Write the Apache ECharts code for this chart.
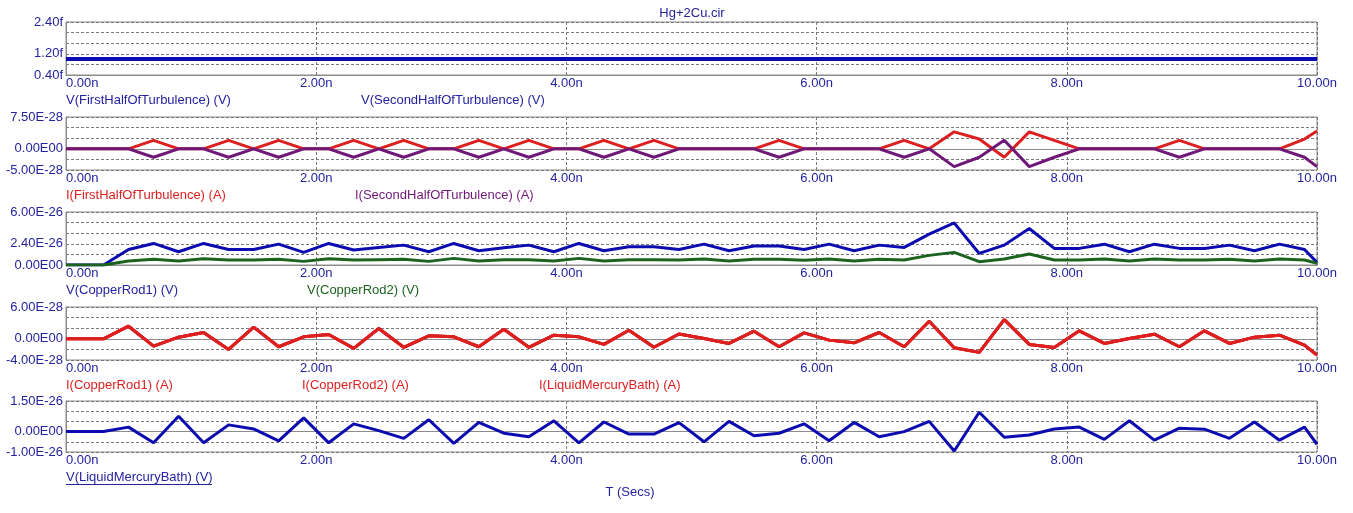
<!DOCTYPE html>
<html>
<head>
<meta charset="utf-8">
<script src="https://cdn.jsdelivr.net/npm/echarts@6/dist/echarts.min.js"></script>
<style>
html,body{margin:0;padding:0;background:#fff;}
#c{width:1353px;height:513px;}
</style>
</head>
<body>
<div id="c"></div>
<script>
// time (ns)
const timeNs = [0, 0.1, 0.3, 0.5, 0.7, 0.9, 1.1, 1.3, 1.5, 1.7, 1.9, 2.1, 2.3, 2.5, 2.7, 2.9, 3.1, 3.3, 3.5, 3.7, 3.9, 4.1, 4.3, 4.5, 4.7, 4.9, 5.1, 5.3, 5.5, 5.7, 5.9, 6.1, 6.3, 6.5, 6.7, 6.9, 7.1, 7.3, 7.5, 7.7, 7.9, 8.1, 8.3, 8.5, 8.7, 8.9, 9.1, 9.3, 9.5, 9.7, 9.9, 10];

// panel 1 (fV)
const vFirstHalf_fV  = [1,1,1,1,1,1,1,1,1,1,1,1,1,1,1,1,1,1,1,1,1,1,1,1,1,1,1,1,1,1,1,1,1,1,1,1,1,1,1,1,1,1,1,1,1,1,1,1,1,1,1,1];
const vSecondHalf_fV = [1,1,1,1,1,1,1,1,1,1,1,1,1,1,1,1,1,1,1,1,1,1,1,1,1,1,1,1,1,1,1,1,1,1,1,1,1,1,1,1,1,1,1,1,1,1,1,1,1,1,1,1];

// panel 2 (1e-28 A)
const iFirstHalf_e28  = [0,0,0,0,2.0,0,0,2.0,0,2.0,0,0,2.0,0,2.0,0,0,2.0,0,2.0,0,0,2.0,0,2.0,0,0,0,0,2.0,0,0,0,0,2.0,0,4.0,2.3,-2.0,4.0,2.0,0,0,0,0,2.0,0,0,0,0,2.3,4.2];
const iSecondHalf_e28 = [0,0,0,0,-2.0,0,0,-2.0,0,-2.0,0,0,-2.0,0,-2.0,0,0,-2.0,0,-2.0,0,0,-2.0,0,-2.0,0,0,0,0,-2.0,0,0,0,0,-2.0,0,-4.2,-2.0,2.0,-4.2,-2.0,0,0,0,0,-2.0,0,0,0,0,-2.0,-4.2];

// panel 3 (1e-26 V)
const vCopperRod1_e26 = [0,0,0,1.76,2.44,1.5,2.44,1.76,1.76,2.36,1.43,2.44,1.69,1.99,2.25,1.5,2.44,1.61,1.95,2.25,1.5,2.44,1.61,2.06,2.06,1.76,2.36,1.61,2.14,2.14,1.76,2.36,1.61,2.25,1.99,3.5,4.76,1.31,2.25,4.13,1.88,1.88,2.36,1.5,2.36,1.88,1.88,2.25,1.61,2.36,1.76,0.3];
const vCopperRod2_e26 = [0,0,0,0.45,0.64,0.45,0.71,0.56,0.56,0.64,0.41,0.71,0.56,0.6,0.64,0.41,0.75,0.45,0.6,0.6,0.45,0.75,0.45,0.6,0.6,0.56,0.68,0.45,0.64,0.64,0.53,0.68,0.45,0.64,0.56,1.09,1.43,0.38,0.68,1.24,0.56,0.56,0.68,0.45,0.68,0.56,0.56,0.64,0.45,0.68,0.56,0.19];

// panel 4 (1e-28 A) – the three currents coincide
const iCopperRod1_e28 = [0,0,0,2.375,-1.375,0.3,1.19,-2.0,2.19,-1.5,0.375,0.8,-1.8,1.94,-1.6,0.56,0.375,-1.5,1.81,-1.6,0.69,0.375,-1.06,1.625,-1.6,0.9,0.06,-0.875,1.44,-1.5,1.125,-0.25,-0.75,1.19,-1.5,3.31,-1.69,-2.56,3.625,-1.06,-1.625,1.5,-0.875,0.06,0.875,-1.5,1.5,-0.875,0.31,0.69,-1.19,-3.06];
const iCopperRod2_e28 = iCopperRod1_e28;
const iLiquidMercuryBath_e28 = iCopperRod1_e28;

// panel 5 (1e-26 V)
const vLiquidMercuryBath_e26 = [0,0,0,0.22,-0.55,0.75,-0.55,0.33,0.13,-0.45,0.67,-0.55,0.38,0.05,-0.33,0.58,-0.58,0.45,-0.08,-0.25,0.53,-0.55,0.47,-0.12,-0.12,0.44,-0.5,0.5,-0.2,-0.08,0.38,-0.45,0.45,-0.25,0.0,0.5,-0.95,0.95,-0.28,-0.17,0.13,0.22,-0.38,0.53,-0.42,0.17,0.12,-0.33,0.47,-0.42,0.22,-0.62];

// tick labels
const xTickValues = [0, 2, 4, 6, 8, 10];
const xTickLabels = ['0.00n', '2.00n', '4.00n', '6.00n', '8.00n', '10.00n'];
const p1TickValues = [0.4, 1.2, 2.4];
const p1TickLabels = ['0.40f', '1.20f', '2.40f'];
const p2TickValues = [-5, 0, 7.5];
const p2TickLabels = ['-5.00E-28', '0.00E00', '7.50E-28'];
const p3TickValues = [0, 2.4, 6];
const p3TickLabels = ['0.00E00', '2.40E-26', '6.00E-26'];
const p4TickValues = [-4, 0, 6];
const p4TickLabels = ['-4.00E-28', '0.00E00', '6.00E-28'];
const p5TickValues = [-1, 0, 1.5];
const p5TickLabels = ['-1.00E-26', '0.00E00', '1.50E-26'];

const NAVY = '#2323a0';
const BLUE = '#0b0bb0';
const RED = '#dc1f1f';
const PURPLE = '#701878';
const GREEN = '#1d6320';
const FONT = 'Liberation Sans, Arial, sans-serif';
const FS = 13;

function pick(vals, labels) {
  return function (v) {
    for (let i = 0; i < vals.length; i++) if (Math.abs(vals[i] - v) < 1e-6) return labels[i];
    return '';
  };
}

const panels = [
  {top: 22, height: 53, min: 0.4, max: 2.4, interval: 0.4, tv: p1TickValues, tl: p1TickLabels},
  {top: 117, height: 53, min: -5, max: 7.5, interval: 2.5, tv: p2TickValues, tl: p2TickLabels},
  {top: 212, height: 53, min: 0, max: 6, interval: 1.2, tv: p3TickValues, tl: p3TickLabels},
  {top: 307, height: 53, min: -4, max: 6, interval: 2, tv: p4TickValues, tl: p4TickLabels},
  {top: 401, height: 51, min: -1, max: 1.5, interval: 0.5, tv: p5TickValues, tl: p5TickLabels}
];

const dash = [3, 2];
const grids = [], xAxes = [], yAxes = [];
panels.forEach((p, i) => {
  grids.push({left: 66, width: 1251, top: p.top, height: p.height, show: true, borderColor: '#8c8c8c', borderWidth: 1, backgroundColor: 'transparent'});
  xAxes.push({
    type: 'value', gridIndex: i, min: 0, max: 10, interval: 2,
    axisLine: {show: true, lineStyle: {color: '#8c8c8c', width: 1}},
    axisTick: {show: false},
    splitLine: {show: true, lineStyle: {color: '#777', type: dash, width: 1}},
    axisLabel: {color: NAVY, fontSize: FS, fontFamily: FONT, margin: 2, showMinLabel: true, showMaxLabel: true,
      alignMinLabel: 'left', formatter: pick(xTickValues, xTickLabels)}
  });
  yAxes.push({
    type: 'value', gridIndex: i, min: p.min, max: p.max, interval: p.interval,
    axisLine: {show: true, lineStyle: {color: '#8c8c8c', width: 1}},
    axisTick: {show: false},
    splitLine: {show: true, lineStyle: {color: '#777', type: dash, width: 1}},
    axisLabel: {color: NAVY, fontSize: FS, fontFamily: FONT, margin: 3, showMinLabel: true, showMaxLabel: true,
      formatter: pick(p.tv, p.tl)}
  });
});

function mk(name, arr, idx, color, w) {
  return {
    name: name, type: 'line', xAxisIndex: idx, yAxisIndex: idx,
    data: timeNs.map((t, i) => [t, arr[i]]),
    showSymbol: false, symbol: 'none', animation: false,
    lineStyle: {color: color, width: w || 3}, itemStyle: {color: color}
  };
}

const series = [
  mk('V(FirstHalfOfTurbulence) (V)', vFirstHalf_fV, 0, BLUE, 4),
  mk('V(SecondHalfOfTurbulence) (V)', vSecondHalf_fV, 0, BLUE, 4),
  mk('I(FirstHalfOfTurbulence) (A)', iFirstHalf_e28, 1, RED),
  mk('I(SecondHalfOfTurbulence) (A)', iSecondHalf_e28, 1, PURPLE),
  mk('V(CopperRod1) (V)', vCopperRod1_e26, 2, BLUE),
  mk('V(CopperRod2) (V)', vCopperRod2_e26, 2, GREEN),
  mk('I(CopperRod1) (A)', iCopperRod1_e28, 3, RED),
  mk('I(CopperRod2) (A)', iCopperRod2_e28, 3, RED),
  mk('I(LiquidMercuryBath) (A)', iLiquidMercuryBath_e28, 3, RED),
  mk('V(LiquidMercuryBath) (V)', vLiquidMercuryBath_e26, 4, BLUE)
];

function txt(text, x, y, color, align) {
  return {type: 'text', x: x, y: y, silent: true,
    style: {text: text, fill: color, font: FS + 'px ' + FONT, align: align || 'left', verticalAlign: 'middle'}};
}

const graphic = [
  txt('Hg+2Cu.cir', 692, 13, NAVY, 'center'),
  txt('V(FirstHalfOfTurbulence) (V)', 66, 100, NAVY),
  txt('V(SecondHalfOfTurbulence) (V)', 361, 100, NAVY),
  txt('I(FirstHalfOfTurbulence) (A)', 66, 195, RED),
  txt('I(SecondHalfOfTurbulence) (A)', 355, 195, PURPLE),
  txt('V(CopperRod1) (V)', 66, 290, NAVY),
  txt('V(CopperRod2) (V)', 307, 290, GREEN),
  txt('I(CopperRod1) (A)', 66, 385, RED),
  txt('I(CopperRod2) (A)', 302, 385, RED),
  txt('I(LiquidMercuryBath) (A)', 539, 385, RED),
  txt('V(LiquidMercuryBath) (V)', 66, 477, NAVY),
  {type: 'line', silent: true, shape: {x1: 66, y1: 484.5, x2: 212, y2: 484.5}, style: {stroke: NAVY, lineWidth: 1}},
  txt('T (Secs)', 630, 492, NAVY, 'center')
];

const chart = echarts.init(document.getElementById('c'));
chart.setOption({
  animation: false,
  backgroundColor: '#fff',
  grid: grids, xAxis: xAxes, yAxis: yAxes, series: series, graphic: graphic
});
</script>
</body>
</html>
